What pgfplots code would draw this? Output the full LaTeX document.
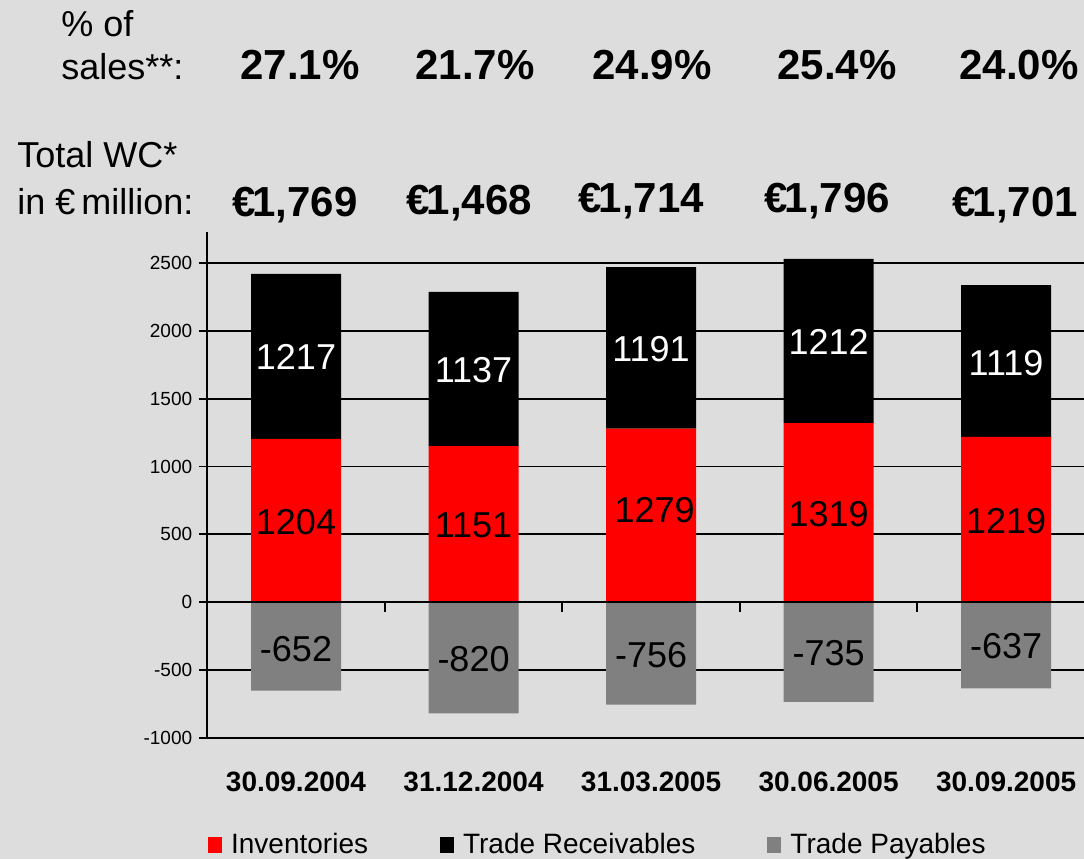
\documentclass[border=0pt]{standalone}
\usepackage{pgfplots}
\usepackage{pgfplotstable}
\pgfplotsset{compat=1.18}
\usepackage{fontspec}
\setmainfont{Liberation Sans}
\definecolor{bgc}{HTML}{DDDDDD}
\definecolor{invred}{HTML}{FF0000}
\definecolor{paygray}{HTML}{808080}
\newcommand{\dlab}{\fontsize{18}{20}\selectfont}
\newcommand{\hdr}{\fontsize{18}{20}\selectfont}
\newcommand{\bigval}{\fontsize{21}{24}\selectfont\bfseries}
\newcommand{\cat}{\fontsize{14}{16}\selectfont\bfseries}

\pgfplotstableread{
x inv rec pay
0 1204 1217 -652
1 1151 1137 -820
2 1279 1191 -756
3 1319 1212 -735
4 1219 1119 -637
}\wcdata

\pgfplotsset{common/.style={
  at={(0pt,0pt)}, anchor=south west,
  scale only axis, width=438.4pt, height=252.9pt,
  xmin=-0.5, xmax=4.439, ymin=-1000, ymax=2730,
  clip=false,
}}

\begin{document}
\begin{tikzpicture}
\fill[bgc] (-103.625pt,-60.65pt) rectangle (438.375pt,368.85pt);

\begin{axis}[
  common,
  ybar stacked, bar width=45pt,
  xtick=\empty,
  ytick={-1000,-500,...,2500},
  ymajorgrids,
  major grid style={black, line width=0.9pt},
  axis line style={draw=none},
  tick pos=left, ytick align=outside, major tick length=4pt,
  y tick style={black, line width=0.9pt},
  yticklabel style={font=\fontsize{9.5}{11}\selectfont},
  /pgf/number format/assume math mode=true,
  /pgf/number format/1000 sep={},
  legend columns=3,
  legend image code/.code={\path[#1, draw=none] (0pt,-4pt) rectangle (7pt,4pt);},
  legend style={draw=none, fill=none, inner sep=0pt, outer sep=0pt,
    at={(axis description cs:0.001,-0.212)}, anchor=west,
    font=\fontsize{14}{16}\selectfont,
    /tikz/every odd column/.append style={column sep=2.5pt},
    /tikz/every even column/.append style={column sep=34pt}},
]
\addplot[fill=invred, draw=none] table[x=x, y=inv]{\wcdata};
\addplot[fill=black, draw=none] table[x=x, y=rec]{\wcdata};
\addlegendimage{fill=paygray, draw=none}
\legend{Inventories, Trade Receivables, Trade Payables}
\end{axis}

\begin{axis}[
  common,
  hide axis,
  ybar, bar width=45pt, bar shift=0pt,
]
\addplot[fill=paygray, draw=none] table[x=x, y=pay]{\wcdata};
\draw[black, line width=0.9pt] (-0.5,0) -- (4.439,0);
\draw[black, line width=0.9pt] (-0.5,-1000) -- (-0.5,2730);
\pgfplotsinvokeforeach{0.5,1.5,2.5,3.5}{\draw[black, line width=0.9pt] (#1,0) -- (#1,-74);}
\draw[black, line width=0.9pt] (-0.5,0) -- (-0.5,-74);

% data labels
\node[font=\dlab, anchor=base, text=white] at (0,1713) {1217};
\node[font=\dlab, anchor=base] at (0,496) {1204};
\node[font=\dlab, anchor=base] at (0,-440) {-652};
\node[font=\dlab, anchor=base, text=white] at (1,1617) {1137};
\node[font=\dlab, anchor=base] at (1,474) {1151};
\node[font=\dlab, anchor=base] at (1,-514) {-820};
\node[font=\dlab, anchor=base, text=white] at (2,1772) {1191};
\node[font=\dlab, anchor=base] at (2.02,585) {1279};
\node[font=\dlab, anchor=base] at (2,-485) {-756};
\node[font=\dlab, anchor=base, text=white] at (3,1824) {1212};
\node[font=\dlab, anchor=base] at (3,555) {1319};
\node[font=\dlab, anchor=base] at (3,-470) {-735};
\node[font=\dlab, anchor=base, text=white] at (4,1669) {1119};
\node[font=\dlab, anchor=base] at (4,504) {1219};
\node[font=\dlab, anchor=base] at (4,-418) {-637};

% category labels
\node[font=\cat, anchor=base] at (0,-1397) {30.09.2004};
\node[font=\cat, anchor=base] at (1,-1397) {31.12.2004};
\node[font=\cat, anchor=base] at (2,-1397) {31.03.2005};
\node[font=\cat, anchor=base] at (3,-1397) {30.06.2005};
\node[font=\cat, anchor=base] at (4,-1397) {30.09.2005};

% header
\node[font=\hdr, anchor=base west, inner sep=0pt] at (-1.324,4169) {\% of};
\node[font=\hdr, anchor=base west, inner sep=0pt] at (-1.324,3852) {sales**:};
\node[font=\hdr, anchor=base west, inner sep=0pt] at (-1.572,3203) {Total WC*};
\node[font=\hdr, anchor=base west, inner sep=0pt] at (-1.572,2856) {in €\,million:};

\node[font=\bigval, anchor=base] at (0.023,3852) {27.1\%};
\node[font=\bigval, anchor=base] at (1.008,3852) {21.7\%};
\node[font=\bigval, anchor=base] at (2.006,3852) {24.9\%};
\node[font=\bigval, anchor=base] at (3.048,3852) {25.4\%};
\node[font=\bigval, anchor=base] at (4.073,3852) {24.0\%};

\node[font=\bigval, anchor=base] at (-0.006,2841) {€\kern-1.5pt1,769};
\node[font=\bigval, anchor=base] at (0.975,2856) {€\kern-1.5pt1,468};
\node[font=\bigval, anchor=base] at (1.944,2871) {€\kern-1.5pt1,714};
\node[font=\bigval, anchor=base] at (2.992,2871) {€\kern-1.5pt1,796};
\node[font=\bigval, anchor=base] at (4.051,2841) {€\kern-1.5pt1,701};
\end{axis}

\pgfresetboundingbox
\path[use as bounding box] (-103.625pt,-60.65pt) rectangle (438.375pt,368.85pt);
\end{tikzpicture}
\end{document}
